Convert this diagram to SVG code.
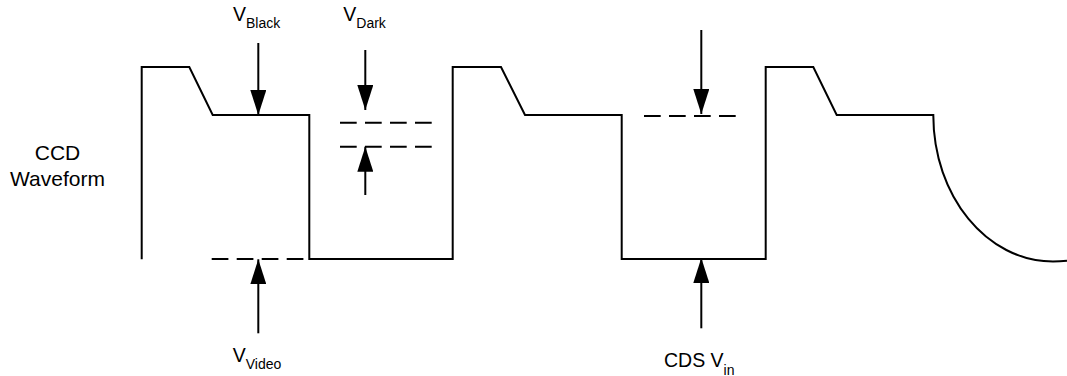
<svg xmlns="http://www.w3.org/2000/svg" width="1067" height="376" viewBox="0 0 1067 376">
<style>
.w{fill:none;stroke:#000;stroke-width:2;stroke-linejoin:miter}
.d{fill:none;stroke:#000;stroke-width:2;stroke-dasharray:16.7 8.3}
.a{fill:none;stroke:#000;stroke-width:2;marker-end:url(#ah)}
.t{font-family:"Liberation Sans",Arial,sans-serif;font-size:19.5px;fill:#000}
.s{font-size:14px}
</style>
<defs>
<marker id="ah" markerUnits="userSpaceOnUse" markerWidth="25" markerHeight="16" refX="25" refY="8" orient="auto" viewBox="0 0 25 16">
<path d="M0,0 L25,8 L0,16 z" fill="#000"/>
</marker>
</defs>
<rect width="1067" height="376" fill="#fff"/>
<g id="waveform">
<path class="w" d="M141.7,259.3 V67 H189.3 L212.7,115 H309.3 V259 H452.7 V67 H501 L525,115 H621.7 V259 H765.7 V67 H813.3 L836.7,115 H933.3 C933.3,196 986.7,261.5 1053,261.5 Q1060,261.5 1067,260.7"/>
</g>
<g id="levels">
<path class="d" d="M340,122.7 H432"/>
<path class="d" d="M340,146.7 H432"/>
<path class="d" d="M211.7,259 H304"/>
<path class="d" d="M644,116 H736"/>
</g>
<g id="connectors">
<line class="a" x1="258.3" y1="43" x2="258.3" y2="115"/>
<line class="a" x1="365.3" y1="50" x2="365.3" y2="110"/>
<line class="a" x1="365.3" y1="195" x2="365.3" y2="146.7"/>
<line class="a" x1="258.3" y1="333.3" x2="258.3" y2="259.3"/>
<line class="a" x1="701.3" y1="30" x2="701.3" y2="114"/>
<line class="a" x1="701.3" y1="328.3" x2="701.3" y2="258"/>
</g>
<g id="labels">
<text class="t" x="57.5" y="160" text-anchor="middle" style="font-size:21px">CCD</text>
<text class="t" x="57.5" y="185.5" text-anchor="middle" style="font-size:21px">Waveform</text>
<text class="t" x="233" y="21">V<tspan class="s" dy="7">Black</tspan></text>
<text class="t" x="343.3" y="21">V<tspan class="s" dy="7">Dark</tspan></text>
<text class="t" x="232.7" y="361.5">V<tspan class="s" dy="7.5">Video</tspan></text>
<text class="t" x="664" y="367">CDS V<tspan class="s" dy="7.5">in</tspan></text>
</g>
</svg>
